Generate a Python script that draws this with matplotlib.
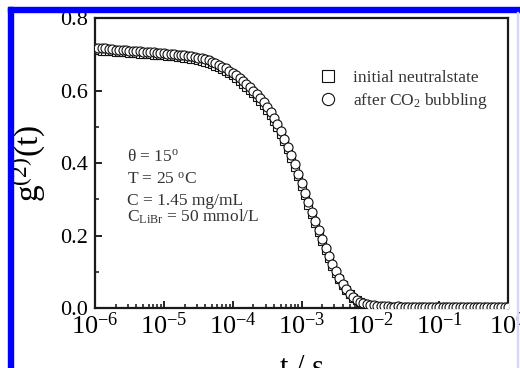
import numpy as np
import matplotlib
matplotlib.use("Agg")
import matplotlib.pyplot as plt
from matplotlib import ticker
from matplotlib.patches import Rectangle

plt.rcParams["font.family"] = "Liberation Serif"
plt.rcParams["mathtext.fontset"] = "custom"
plt.rcParams["mathtext.rm"] = "Liberation Serif"
plt.rcParams["mathtext.it"] = "Liberation Serif:italic"

# g2(t), one value per 0.05 decade from 1e-6 s to 1 s
g_after = [
    0.718, 0.717, 0.716, 0.716, 0.715, 0.714, 0.713, 0.713, 0.712, 0.711,
    0.710, 0.709, 0.709, 0.708, 0.707, 0.707, 0.706, 0.705, 0.704, 0.704,
    0.703, 0.702, 0.701, 0.700, 0.699, 0.698, 0.697, 0.696, 0.694, 0.693,
    0.691, 0.689, 0.686, 0.683, 0.679, 0.675, 0.671, 0.666, 0.661, 0.655,
    0.649, 0.642, 0.634, 0.626, 0.618, 0.609,
    0.600, 0.590, 0.579, 0.567, 0.554, 0.540, 0.524, 0.507, 0.488, 0.467,
    0.445, 0.421, 0.396, 0.370, 0.344, 0.318, 0.292, 0.266, 0.240, 0.215,
    0.190, 0.166, 0.143, 0.121, 0.101, 0.082, 0.066, 0.052, 0.040, 0.030,
    0.023, 0.017, 0.013, 0.010, 0.008, 0.007, 0.006, 0.005, 0.005,
    0.005, 0.004, 0.004, 0.005, 0.004, 0.004, 0.003, 0.004, 0.004, 0.003,
    0.004, 0.003, 0.004, 0.004, 0.003, 0.004, 0.003, 0.003, 0.004, 0.003,
    0.004, 0.003, 0.003, 0.004, 0.003, 0.003, 0.004, 0.003, 0.003, 0.003,
    0.004, 0.003, 0.003, 0.003, 0.004, 0.003,
]
g_initial = [
    0.712, 0.711, 0.710, 0.709, 0.709, 0.708, 0.707, 0.706, 0.706, 0.705,
    0.704, 0.703, 0.703, 0.702, 0.701, 0.700, 0.700, 0.699, 0.698, 0.697,
    0.697, 0.696, 0.695, 0.694, 0.693, 0.692, 0.691, 0.689, 0.688, 0.686,
    0.684, 0.682, 0.679, 0.676, 0.672, 0.668, 0.664, 0.659, 0.654, 0.648,
    0.642, 0.635, 0.627, 0.619, 0.611, 0.602,
    0.593, 0.583, 0.572, 0.560, 0.547, 0.533, 0.517, 0.500, 0.481, 0.460,
    0.438, 0.414, 0.389, 0.363, 0.337, 0.311, 0.285, 0.259, 0.234, 0.209,
    0.185, 0.161, 0.139, 0.117, 0.097, 0.079, 0.063, 0.049, 0.038, 0.028,
    0.021, 0.016, 0.012, 0.009, 0.007, 0.006, 0.005, 0.004, 0.004,
    0.004, 0.003, 0.004, 0.003, 0.003, 0.004, 0.003, 0.003, 0.002, 0.003,
    0.003, 0.003, 0.002, 0.003, 0.003, 0.002, 0.003, 0.003, 0.002, 0.003,
    0.002, 0.003, 0.003, 0.002, 0.003, 0.002, 0.003, 0.002, 0.003, 0.002,
    0.003, 0.002, 0.002, 0.003, 0.002, 0.002,
]
# correlator lag channels, evenly spaced in log t
t = np.logspace(-6, 0, len(g_after))

y_ticks = [0.0, 0.2, 0.4, 0.6, 0.8]
y_ticklabels = ["0.0", "0.2", "0.4", "0.6", "0.8"]
labels = ["initial neutralstate", r"after CO$_2$ bubbling"]
notes = [r"$\mathrm{\theta}$ = 15$^\mathrm{o}$", r"T = 25 $^\mathrm{o}$C",
         "C = 1.45 mg/mL", r"C$_\mathrm{LiBr}$ = 50 mmol/L"]

fig = plt.figure(figsize=(5.2, 3.68), dpi=100)
ax = fig.add_axes([95 / 520, 1 - 308 / 368, 413 / 520, 290 / 368])

ax.plot(t, g_initial, ls="none", marker="s", ms=6, mfc="white", mec="#111111",
        mew=0.8, label=labels[0], zorder=2)
ax.plot(t, g_after, ls="none", marker="o", ms=6.5, mfc="white", mec="#111111",
        mew=0.8, label=labels[1], zorder=3)

ax.set_xscale("log")
ax.set_xlim(1e-6, 1)
ax.set_ylim(0, 0.8)
ax.set_yticks(y_ticks)
ax.set_yticklabels(y_ticklabels)
ax.yaxis.set_minor_locator(ticker.MultipleLocator(0.1))
ax.xaxis.set_major_locator(ticker.LogLocator(base=10, numticks=10))
ax.xaxis.set_minor_locator(ticker.LogLocator(base=10, subs=np.arange(2, 10), numticks=100))
ax.xaxis.set_major_formatter(ticker.FuncFormatter(lambda v, p: r"$10^{%d}$" % round(np.log10(v))))
ax.xaxis.set_minor_formatter(ticker.NullFormatter())

ax.tick_params(which="both", direction="in", top=False, right=False, color="#111111")
ax.tick_params(which="major", length=5, width=1.3)
ax.tick_params(which="minor", length=3, width=1.1)
ax.tick_params(axis="y", labelsize=16, pad=5)
ax.tick_params(axis="x", labelsize=19, pad=3)
for s in ax.spines.values():
    s.set_linewidth(1.6)
    s.set_color("#1a1a1a")

ax.set_ylabel(r"g$^\mathrm{(2)}$(t)", fontsize=24)
ax.yaxis.set_label_coords(-0.115, 0.5)
ax.set_xlabel("t / s", fontsize=22)
ax.xaxis.set_label_coords(0.5, -0.16)

note_y = [0.507, 0.428, 0.355, 0.297]
for txt, yy in zip(notes, note_y):
    ax.text(0.0775, yy, txt, transform=ax.transAxes, fontsize=12.5,
            color="#333333", va="baseline", ha="left")

ax.legend(loc="upper left", bbox_to_anchor=(0.5436, 0.822), frameon=False,
          fontsize=12.5, handlelength=1.0, handletextpad=0.95, labelspacing=0.3,
          borderpad=0, borderaxespad=0, markerscale=1.35, labelcolor="#333333")

# blue frame of the original page
fig.add_artist(Rectangle((8 / 520, 0), 5.3 / 520, 361 / 368, transform=fig.transFigure,
                         color="#0000ff", zorder=10))
fig.add_artist(Rectangle((8 / 520, 1 - 11.7 / 368), 512 / 520, 5 / 368,
                         transform=fig.transFigure, color="#0000ff", zorder=10))
fig.add_artist(Rectangle((516.5 / 520, 0), 1.5 / 520, 1 - 11.7 / 368, transform=fig.transFigure,
                         color="#d6d6ff", zorder=10))

fig.savefig("out.png", dpi=100)
